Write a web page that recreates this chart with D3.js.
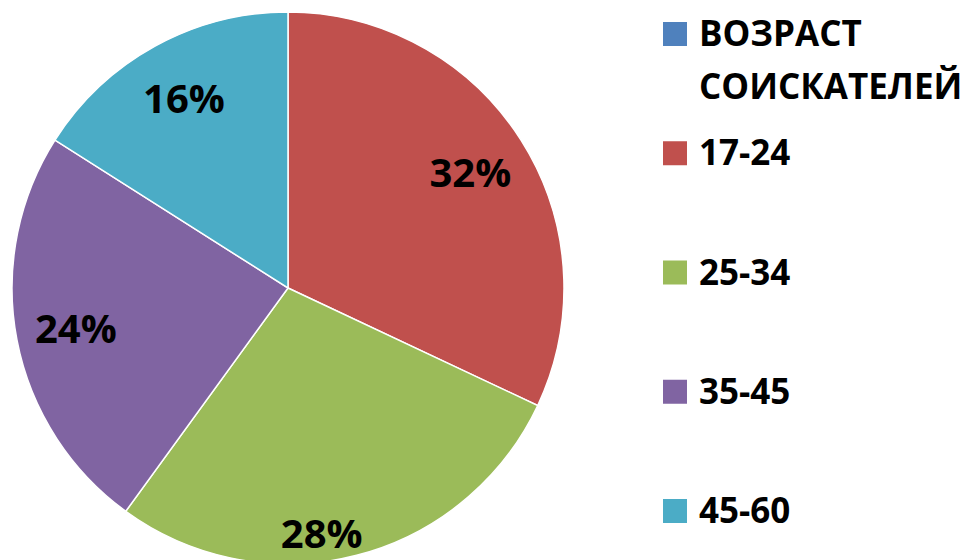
<!DOCTYPE html>
<html>
  <head>
    <meta charset="utf-8" />
    <title>Возраст соискателей</title>
    <style>
      body { margin: 0; background: #fff; }
      text { font-family: "Open Sans", "Noto Sans", "DejaVu Sans", sans-serif; font-weight: bold; }
    </style>
  </head>
  <body>
  <div id="container"></div>
  <script src="https://cdn.jsdelivr.net/npm/d3@7/dist/d3.min.js"></script>
  <script type="text/javascript">

    // legend entries, the first one is the table header with no value
    var categories = ['ВОЗРАСТ СОИСКАТЕЛЕЙ', '17-24', '25-34', '35-45', '45-60'];
    var values = [0, 32, 28, 24, 16];
    var colors = ['#4F81BD', '#C0504D', '#9BBB59', '#8064A2', '#4BACC6'];

    var width = 965;
    var height = 560;

    var svg = d3.select('#container').append('svg')
      .attr('width', width).attr('height', height);

    var data = categories.map(function(c, i){ return {name: c, value: values[i], color: colors[i]}; });
    var total = d3.sum(values);
    var fmt = d3.format('.0%');

    var cx = 288, cy = 288, radius = 276, labelRadius = 216;

    var pie = d3.pie().sort(null).value(function(d){ return d.value; });
    var arc = d3.arc().innerRadius(0).outerRadius(radius);
    var labelArc = d3.arc().innerRadius(labelRadius).outerRadius(labelRadius);

    // the bottom label was dragged down in the original
    var nudge = {'25-34': [-20, 36]};

    var g = svg.append('g').attr('transform', 'translate(' + cx + ',' + cy + ')');
    var arcs = pie(data.filter(function(d){ return d.value > 0; }));

    g.selectAll('path').data(arcs).enter().append('path')
      .attr('d', arc)
      .attr('fill', function(d){ return d.data.color; })
      .attr('stroke', '#fff')
      .attr('stroke-width', 1.5);

    g.selectAll('text.lbl').data(arcs).enter().append('text')
      .attr('class', 'lbl')
      .attr('transform', function(d){
        var p = labelArc.centroid(d);
        var n = nudge[d.data.name] || [0, 0];
        return 'translate(' + (p[0] + n[0]) + ',' + (p[1] + n[1]) + ')';
      })
      .attr('text-anchor', 'middle')
      .attr('dy', '0.36em')
      .attr('font-size', 40)
      .attr('fill', '#000')
      .text(function(d){ return fmt(d.data.value / total); });

    // legend
    var legendY = d3.scalePoint().domain(categories).range([46, 523]);
    var legend = svg.append('g').attr('transform', 'translate(663,0)');
    var item = legend.selectAll('g').data(data).enter().append('g')
      .attr('transform', function(d){ return 'translate(0,' + legendY(d.name) + ')'; });

    item.append('rect')
      .attr('x', 0).attr('y', -24)
      .attr('width', 24).attr('height', 24)
      .attr('fill', function(d){ return d.color; });

    item.append('text')
      .attr('x', 36)
      .attr('font-size', 35)
      .attr('fill', '#000')
      .each(function(d){
        var words = d.name.split(' ');
        var t = d3.select(this);
        words.forEach(function(w, i){
          t.append('tspan').attr('x', 36).attr('dy', i === 0 ? 0 : 53).text(w);
        });
      });

  </script>
  </body>
</html>
